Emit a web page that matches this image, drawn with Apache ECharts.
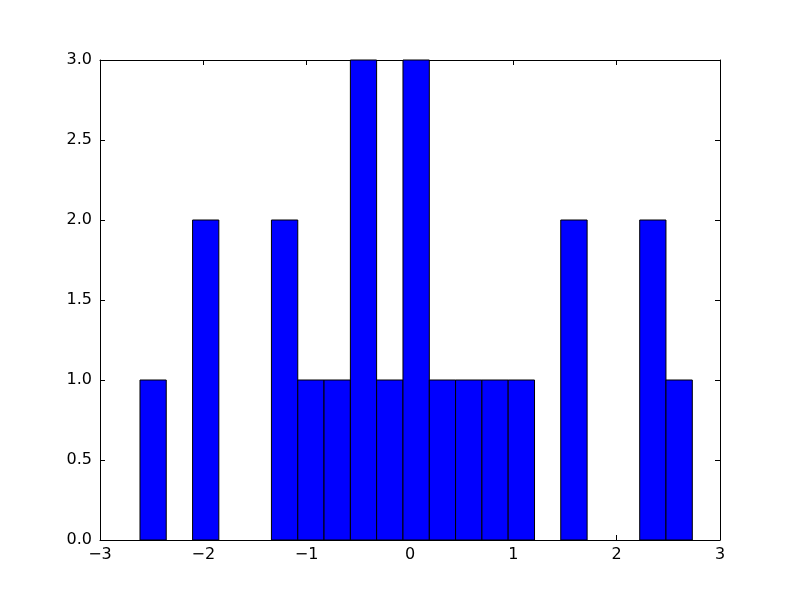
<!DOCTYPE html>
<html>
<head>
<meta charset="utf-8">
<script src="https://cdn.jsdelivr.net/npm/echarts@6/dist/echarts.min.js"></script>
<style>html,body{margin:0;padding:0;background:#fff;}#c{width:800px;height:600px;}</style>
</head>
<body>
<div id="c"></div>
<script>
// Histogram bin edges and counts per bin
const binEdges = [-2.613, -2.359, -2.104, -1.850, -1.595, -1.341, -1.086, -0.832, -0.577, -0.323, -0.068,
                  0.187, 0.441, 0.696, 0.950, 1.205, 1.459, 1.714, 1.968, 2.223, 2.477, 2.732];
const counts = [1, 0, 2, 0, 0, 2, 1, 1, 3, 1, 3, 1, 1, 1, 1, 0, 2, 0, 0, 2, 1];
const xTicks = [-3, -2, -1, 0, 1, 2, 3];
const yTicks = [0.0, 0.5, 1.0, 1.5, 2.0, 2.5, 3.0];

const data = counts.map((c, i) => [binEdges[i], binEdges[i + 1], c]);
const font = 'DejaVu Sans';
const tick = {show: true, inside: true, length: 5, lineStyle: {color: '#000', width: 1}};
const line = {show: true, onZero: false, lineStyle: {color: '#000', width: 1}};

const chart = echarts.init(document.getElementById('c'), null, {renderer: 'canvas'});
chart.setOption({
  animation: false,
  backgroundColor: '#fff',
  grid: {left: 100, right: 80, top: 60, bottom: 60, containLabel: false},
  xAxis: [
    {type: 'value', min: xTicks[0], max: xTicks[xTicks.length - 1], interval: 1, position: 'bottom',
     axisLine: line, axisTick: tick, splitLine: {show: false},
     axisLabel: {margin: 7, color: '#000', fontFamily: font, fontSize: 16,
                 formatter: v => String(v).replace('-', '\u2212')}},
    {type: 'value', min: xTicks[0], max: xTicks[xTicks.length - 1], interval: 1, position: 'top',
     axisLine: line, axisTick: tick, splitLine: {show: false}, axisLabel: {show: false}}
  ],
  yAxis: [
    {type: 'value', min: yTicks[0], max: yTicks[yTicks.length - 1], interval: 0.5, position: 'left',
     axisLine: line, axisTick: tick, splitLine: {show: false},
     axisLabel: {margin: 8, color: '#000', fontFamily: font, fontSize: 16,
                 formatter: v => v.toFixed(1)}},
    {type: 'value', min: yTicks[0], max: yTicks[yTicks.length - 1], interval: 0.5, position: 'right',
     axisLine: line, axisTick: tick, splitLine: {show: false}, axisLabel: {show: false}}
  ],
  series: [{
    type: 'custom',
    xAxisIndex: 0, yAxisIndex: 0,
    data: data,
    renderItem: function (params, api) {
      if (api.value(2) === 0) return null;
      const p0 = api.coord([api.value(0), api.value(2)]);
      const p1 = api.coord([api.value(1), 0]);
      return {
        type: 'rect',
        shape: {x: p0[0], y: p0[1], width: p1[0] - p0[0], height: p1[1] - p0[1]},
        style: {fill: '#0000ff', stroke: '#000', lineWidth: 1}
      };
    }
  }]
});
</script>
</body>
</html>
